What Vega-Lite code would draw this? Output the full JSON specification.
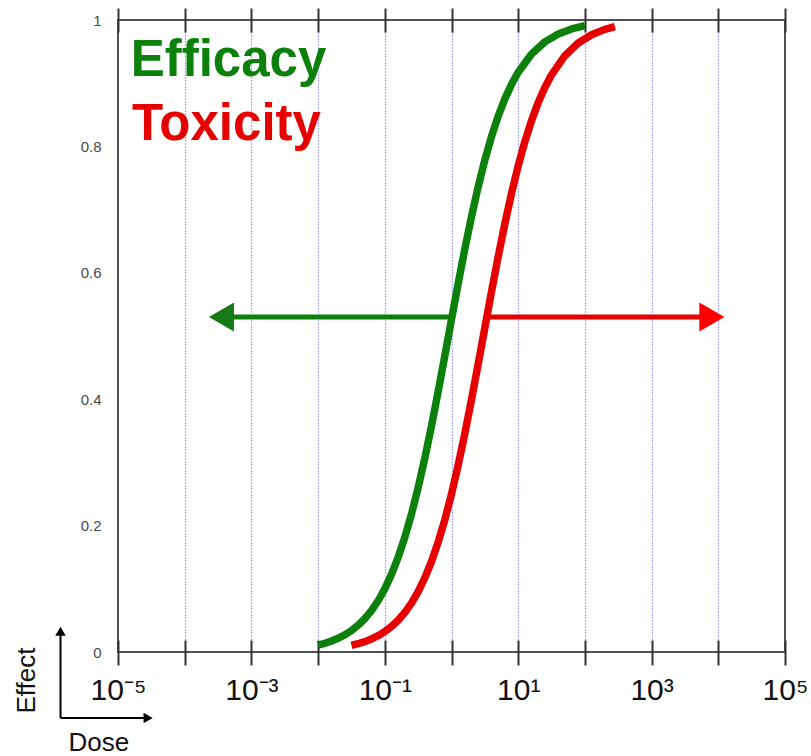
{
  "$schema": "https://vega.github.io/schema/vega-lite/v6.json",
  "autosize": {"type": "none"},
  "padding": {"left": 118, "top": 20, "right": 26, "bottom": 104},
  "width": 667,
  "height": 632,
  "background": "white",
  "config": {
    "view": {"stroke": "#505050", "strokeWidth": 2},
    "font": "Liberation Sans"
  },
  "datasets": {
    "curves": [
      {"dose": 0.01, "effect": 0.0110, "series": "Efficacy"},
      {"dose": 0.012589, "effect": 0.0138, "series": "Efficacy"},
      {"dose": 0.015849, "effect": 0.0173, "series": "Efficacy"},
      {"dose": 0.019953, "effect": 0.0217, "series": "Efficacy"},
      {"dose": 0.025119, "effect": 0.0272, "series": "Efficacy"},
      {"dose": 0.031623, "effect": 0.0339, "series": "Efficacy"},
      {"dose": 0.039811, "effect": 0.0424, "series": "Efficacy"},
      {"dose": 0.050119, "effect": 0.0527, "series": "Efficacy"},
      {"dose": 0.063096, "effect": 0.0655, "series": "Efficacy"},
      {"dose": 0.079433, "effect": 0.0811, "series": "Efficacy"},
      {"dose": 0.1, "effect": 0.1000, "series": "Efficacy"},
      {"dose": 0.12589, "effect": 0.1227, "series": "Efficacy"},
      {"dose": 0.15849, "effect": 0.1497, "series": "Efficacy"},
      {"dose": 0.19953, "effect": 0.1815, "series": "Efficacy"},
      {"dose": 0.25119, "effect": 0.2182, "series": "Efficacy"},
      {"dose": 0.31623, "effect": 0.2600, "series": "Efficacy"},
      {"dose": 0.39811, "effect": 0.3067, "series": "Efficacy"},
      {"dose": 0.50119, "effect": 0.3577, "series": "Efficacy"},
      {"dose": 0.63096, "effect": 0.4122, "series": "Efficacy"},
      {"dose": 0.79433, "effect": 0.4688, "series": "Efficacy"},
      {"dose": 1, "effect": 0.5263, "series": "Efficacy"},
      {"dose": 1.2589, "effect": 0.5831, "series": "Efficacy"},
      {"dose": 1.5849, "effect": 0.6378, "series": "Efficacy"},
      {"dose": 1.9953, "effect": 0.6891, "series": "Efficacy"},
      {"dose": 2.5119, "effect": 0.7362, "series": "Efficacy"},
      {"dose": 3.1623, "effect": 0.7785, "series": "Efficacy"},
      {"dose": 3.9811, "effect": 0.8156, "series": "Efficacy"},
      {"dose": 5.0119, "effect": 0.8478, "series": "Efficacy"},
      {"dose": 6.3096, "effect": 0.8752, "series": "Efficacy"},
      {"dose": 7.9433, "effect": 0.8982, "series": "Efficacy"},
      {"dose": 10, "effect": 0.9174, "series": "Efficacy"},
      {"dose": 15.849, "effect": 0.9463, "series": "Efficacy"},
      {"dose": 25.119, "effect": 0.9654, "series": "Efficacy"},
      {"dose": 39.811, "effect": 0.9779, "series": "Efficacy"},
      {"dose": 63.096, "effect": 0.9859, "series": "Efficacy"},
      {"dose": 100, "effect": 0.9911, "series": "Efficacy"},
      {"dose": 0.031623, "effect": 0.0104, "series": "Toxicity"},
      {"dose": 0.039811, "effect": 0.0131, "series": "Toxicity"},
      {"dose": 0.050119, "effect": 0.0164, "series": "Toxicity"},
      {"dose": 0.063096, "effect": 0.0206, "series": "Toxicity"},
      {"dose": 0.079433, "effect": 0.0258, "series": "Toxicity"},
      {"dose": 0.1, "effect": 0.0323, "series": "Toxicity"},
      {"dose": 0.12589, "effect": 0.0403, "series": "Toxicity"},
      {"dose": 0.15849, "effect": 0.0502, "series": "Toxicity"},
      {"dose": 0.19953, "effect": 0.0624, "series": "Toxicity"},
      {"dose": 0.25119, "effect": 0.0773, "series": "Toxicity"},
      {"dose": 0.31623, "effect": 0.0954, "series": "Toxicity"},
      {"dose": 0.39811, "effect": 0.1172, "series": "Toxicity"},
      {"dose": 0.50119, "effect": 0.1432, "series": "Toxicity"},
      {"dose": 0.63096, "effect": 0.1739, "series": "Toxicity"},
      {"dose": 0.79433, "effect": 0.2093, "series": "Toxicity"},
      {"dose": 1, "effect": 0.2500, "series": "Toxicity"},
      {"dose": 1.2589, "effect": 0.2956, "series": "Toxicity"},
      {"dose": 1.5849, "effect": 0.3457, "series": "Toxicity"},
      {"dose": 1.9953, "effect": 0.3994, "series": "Toxicity"},
      {"dose": 2.5119, "effect": 0.4557, "series": "Toxicity"},
      {"dose": 3.1623, "effect": 0.5132, "series": "Toxicity"},
      {"dose": 3.9811, "effect": 0.5703, "series": "Toxicity"},
      {"dose": 5.0119, "effect": 0.6256, "series": "Toxicity"},
      {"dose": 6.3096, "effect": 0.6777, "series": "Toxicity"},
      {"dose": 7.9433, "effect": 0.7259, "series": "Toxicity"},
      {"dose": 10, "effect": 0.7692, "series": "Toxicity"},
      {"dose": 12.589, "effect": 0.8076, "series": "Toxicity"},
      {"dose": 15.849, "effect": 0.8408, "series": "Toxicity"},
      {"dose": 19.953, "effect": 0.8693, "series": "Toxicity"},
      {"dose": 25.119, "effect": 0.8933, "series": "Toxicity"},
      {"dose": 31.623, "effect": 0.9133, "series": "Toxicity"},
      {"dose": 50.119, "effect": 0.9435, "series": "Toxicity"},
      {"dose": 79.433, "effect": 0.9636, "series": "Toxicity"},
      {"dose": 125.89, "effect": 0.9767, "series": "Toxicity"},
      {"dose": 199.53, "effect": 0.9852, "series": "Toxicity"},
      {"dose": 281.84, "effect": 0.9895, "series": "Toxicity"}
    ],
    "arrows": [
      {"series": "Efficacy", "from": 0.933, "to": 0.000355, "effect": 0.53},
      {"series": "Toxicity", "from": 3.35, "to": 8017, "effect": 0.53}
    ],
    "labels": [
      {"text": "Efficacy", "dose": 0.0000155, "effect": 0.9114},
      {"text": "Toxicity", "dose": 0.0000162, "effect": 0.810}
    ],
    "corner": [
      {"dir": "up", "x1": 0.000001374, "x2": 0.000001374, "y1": -0.1044, "y2": 0.03, "hx": 0.000001374, "hy": 0.0327},
      {"dir": "right", "x1": 0.000001374, "x2": 0.0000282, "y1": -0.1044, "y2": -0.1044, "hx": 0.00002825, "hy": -0.1044}
    ]
  },
  "resolve": {"axis": {"x": "independent", "y": "independent"}},
  "layer": [
    {
      "data": {"name": "curves"},
      "mark": {"type": "line", "strokeWidth": 7.5, "strokeCap": "butt", "strokeJoin": "round"},
      "encoding": {
        "x": {
          "field": "dose", "type": "quantitative",
          "scale": {"type": "log", "domain": [0.00001, 100000], "nice": false},
          "axis": {
            "orient": "bottom",
            "values": [0.00001, 0.0001, 0.001, 0.01, 0.1, 1, 10, 100, 1000, 10000, 100000],
            "labelExpr": "round(log(datum.value)/LN10) == -5 ? '10⁻⁵' : round(log(datum.value)/LN10) == -3 ? '10⁻³' : round(log(datum.value)/LN10) == -1 ? '10⁻¹' : round(log(datum.value)/LN10) == 1 ? '10¹' : round(log(datum.value)/LN10) == 3 ? '10³' : round(log(datum.value)/LN10) == 5 ? '10⁵' : ''",
            "offset": -12,
            "domain": false,
            "ticks": true,
            "tickSize": 25,
            "tickWidth": 2,
            "tickColor": "#333333",
            "grid": true,
            "gridColor": "#5a5aff",
            "gridDash": [1, 2],
            "gridWidth": 1.2,
            "gridOpacity": {"condition": {"test": "datum.value < 0.00002 || datum.value > 50000", "value": 0}, "value": 1},
            "labelFontSize": 30,
            "labelFont": "Liberation Sans",
            "labelColor": "#111111",
            "labelPadding": 10,
            "labelOverlap": false,
            "labelFlush": false,
            "labelBound": false,
            "title": "Dose",
            "titleFont": "Liberation Sans",
            "titleFontSize": 26,
            "titleFontWeight": "normal",
            "titleColor": "#111111",
            "titleAlign": "left",
            "titleBaseline": "alphabetic",
            "titleX": -50,
            "titleY": 110
          }
        },
        "y": {
          "field": "effect", "type": "quantitative",
          "scale": {"domain": [0, 1], "nice": false, "zero": false},
          "axis": {
            "orient": "left",
            "values": [0, 0.2, 0.4, 0.6, 0.8, 1],
            "format": "~g",
            "domain": false,
            "ticks": false,
            "tickSize": 0,
            "grid": false,
            "labelFontSize": 15,
            "labelFont": "Liberation Sans",
            "labelColor": "#4a4a4a",
            "labelPadding": 17,
            "labelOverlap": false,
            "labelFlush": false,
            "title": "Effect",
            "titleFont": "Liberation Sans",
            "titleFontSize": 26,
            "titleFontWeight": "normal",
            "titleColor": "#111111",
            "titleAngle": 270,
            "titleAlign": "center",
            "titleBaseline": "middle",
            "titleX": -92,
            "titleY": 660
          }
        },
        "color": {
          "field": "series", "type": "nominal",
          "scale": {"domain": ["Efficacy", "Toxicity"], "range": ["#0b800b", "#e60000"]},
          "legend": null
        }
      }
    },
    {
      "data": {"name": "arrows"},
      "mark": {"type": "rule", "strokeWidth": 5},
      "encoding": {
        "x": {
          "field": "from", "type": "quantitative",
          "axis": {
            "orient": "top",
            "values": [0.00001, 0.0001, 0.001, 0.01, 0.1, 1, 10, 100, 1000, 10000, 100000],
            "offset": -12,
            "domain": false,
            "labels": false,
            "ticks": true,
            "tickSize": 24,
            "tickWidth": 2,
            "tickColor": "#333333",
            "grid": false,
            "title": null
          }
        },
        "x2": {"field": "to"},
        "y": {"field": "effect", "type": "quantitative", "axis": null},
        "color": {
          "field": "series", "type": "nominal",
          "scale": {"domain": ["Efficacy", "Toxicity"], "range": ["#0b800b", "#e60000"]},
          "legend": null
        }
      }
    },
    {
      "data": {"name": "arrows"},
      "transform": [{"filter": "datum.series == 'Efficacy'"}],
      "mark": {"type": "point", "shape": "triangle-left", "filled": true, "opacity": 1, "size": 841, "color": "#157a15", "strokeWidth": 0},
      "encoding": {
        "x": {"field": "to", "type": "quantitative", "axis": null},
        "y": {"field": "effect", "type": "quantitative", "axis": null}
      }
    },
    {
      "data": {"name": "arrows"},
      "transform": [{"filter": "datum.series == 'Toxicity'"}],
      "mark": {"type": "point", "shape": "triangle-right", "filled": true, "opacity": 1, "size": 841, "color": "#ff0000", "strokeWidth": 0},
      "encoding": {
        "x": {"field": "to", "type": "quantitative", "axis": null},
        "y": {"field": "effect", "type": "quantitative", "axis": null}
      }
    },
    {
      "data": {"name": "labels"},
      "mark": {"type": "text", "align": "left", "baseline": "alphabetic", "fontSize": 51, "fontWeight": "bold", "font": "Liberation Sans"},
      "encoding": {
        "x": {"field": "dose", "type": "quantitative", "axis": null},
        "y": {"field": "effect", "type": "quantitative", "axis": null},
        "text": {"field": "text"},
        "color": {
          "field": "text", "type": "nominal",
          "scale": {"domain": ["Efficacy", "Toxicity"], "range": ["#178017", "#c40000"]},
          "legend": null
        }
      }
    },
    {
      "data": {"name": "corner"},
      "mark": {"type": "rule", "strokeWidth": 2, "color": "#000000"},
      "encoding": {
        "x": {"field": "x1", "type": "quantitative", "axis": null},
        "x2": {"field": "x2"},
        "y": {"field": "y1", "type": "quantitative", "axis": null},
        "y2": {"field": "y2"}
      }
    },
    {
      "data": {"name": "corner"},
      "mark": {"type": "point", "filled": true, "opacity": 1, "size": 110, "color": "#000000", "strokeWidth": 0},
      "encoding": {
        "x": {"field": "hx", "type": "quantitative", "axis": null},
        "y": {"field": "hy", "type": "quantitative", "axis": null},
        "shape": {
          "field": "dir", "type": "nominal",
          "scale": {"domain": ["up", "right"], "range": ["triangle-up", "triangle-right"]},
          "legend": null
        }
      }
    }
  ]
}
